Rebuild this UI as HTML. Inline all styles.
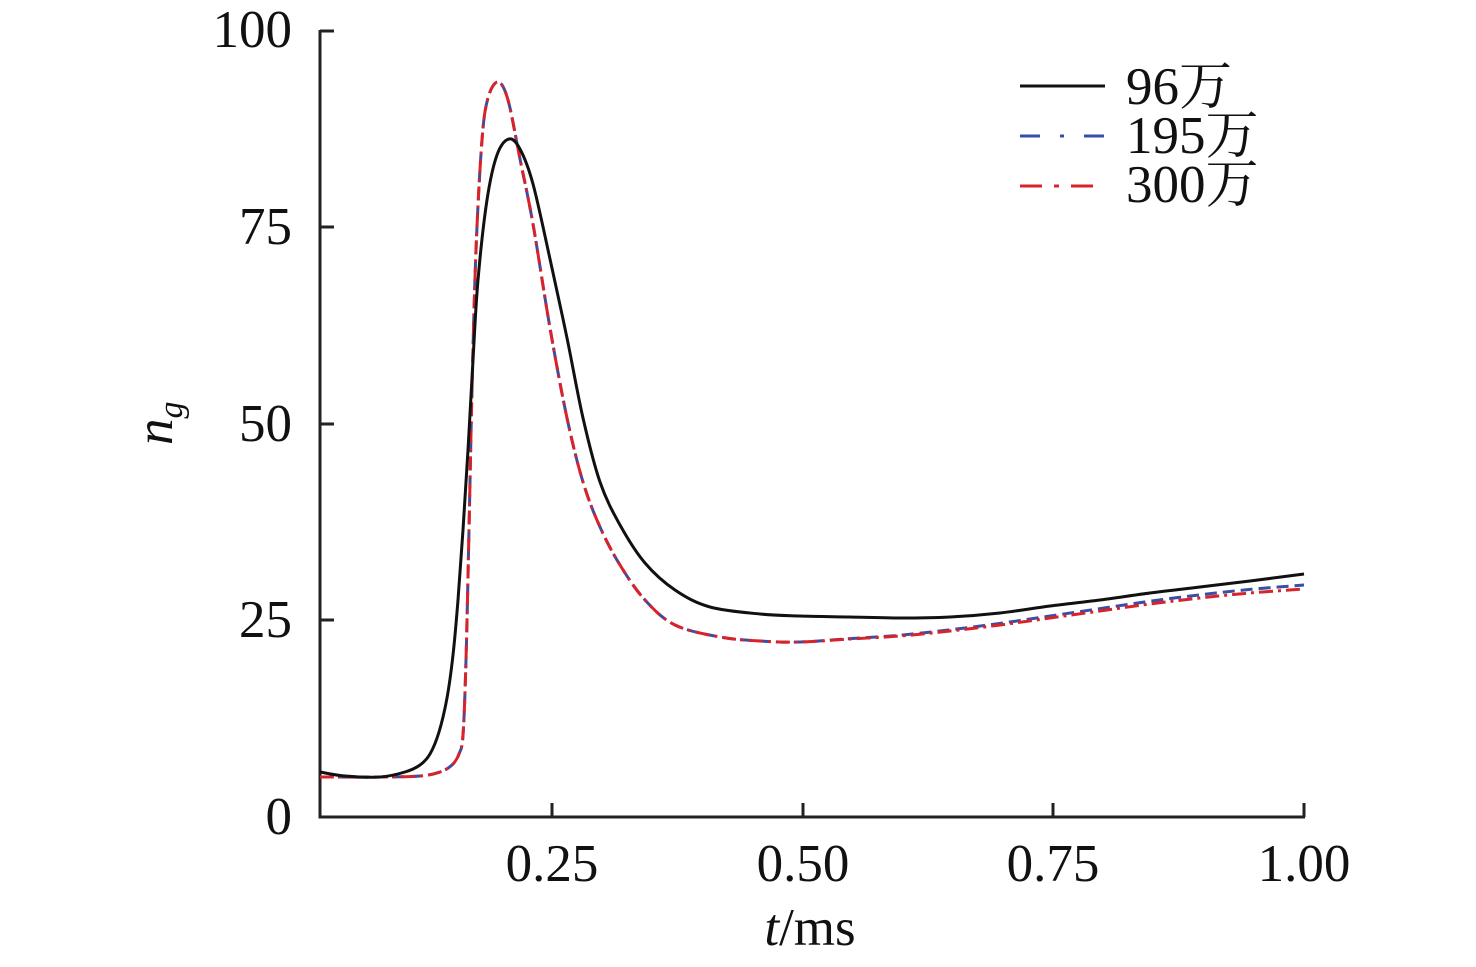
<!DOCTYPE html><html><head><style>body{margin:0;background:#fff}</style></head><body>
<svg width="1476" height="962" xmlns="http://www.w3.org/2000/svg" font-family="Liberation Serif, Noto Serif CJK SC, serif">
<g stroke="#222" stroke-width="3" fill="none">
<path d="M320,30V817H1305"/>
<path d="M320,31h14M320,227h14M320,424h14M320,620h14M552,817v-14M803,817v-14M1053,817v-14M1304,817v-14"/>
</g>
<g font-size="53" fill="#111" text-anchor="end">
<text x="292" y="47">100</text><text x="292" y="244">75</text><text x="292" y="441">50</text><text x="292" y="637">25</text><text x="292" y="834">0</text>
</g>
<g font-size="53" fill="#111" text-anchor="middle">
<text x="552" y="881">0.25</text><text x="803" y="881">0.50</text><text x="1053" y="881">0.75</text><text x="1304" y="881">1.00</text>
<text x="810" y="945"><tspan font-style="italic">t</tspan>/ms</text>
</g>
<text transform="translate(172,445) rotate(-90)" font-size="53" fill="#111"><tspan font-style="italic">n</tspan><tspan font-style="italic" font-size="34" dy="10">g</tspan></text>
<g fill="none" stroke-width="3" stroke-linejoin="round">
<path id="b" stroke="#3a4ea6" stroke-dasharray="12 6"/>
<path id="r" stroke="#d8232a" stroke-dasharray="14 5 3 5"/>
<path id="k" stroke="#111"/>
<path d="M1020,86h85" stroke="#111"/>
<path d="M1020,136h85" stroke="#3a4ea6" stroke-dasharray="20 20 4 20"/>
<path d="M1020,186h85" stroke="#d8232a" stroke-dasharray="22 12 5 12"/>
</g>
<g font-size="53" fill="#111">
<text x="1126" y="104">96万</text><text x="1126" y="153">195万</text><text x="1126" y="202">300万</text>
</g>
</svg>
<script>
function cr(p){let d="M"+p[0][0]+","+p[0][1];for(let i=0;i<p.length-1;i++){const a=p[i-1]||p[i],b=p[i],c=p[i+1],e=p[i+2]||c;d+=" C"+(b[0]+(c[0]-a[0])/6)+","+(b[1]+(c[1]-a[1])/6)+" "+(c[0]-(e[0]-b[0])/6)+","+(c[1]-(e[1]-b[1])/6)+" "+c[0]+","+c[1];}return d;}
const k=[[320,772],[345,776],[380,777],[405,772],[420,765],[430,754],[439,732],[447,698],[453,655],[458,600],[463,530],[468,450],[473,360],[478,280],[487,200],[497,155],[509,139],[520,149],[533,184],[550,259],[567,338],[583,418],[600,482],[620,525],[645,563],[675,590],[710,607],[760,614],[800,616],[850,617],[900,618],[950,617],[1000,613],[1050,606],[1100,600],[1150,593],[1200,587],[1250,581],[1304,574]];
const rr=[[320,777],[380,777],[420,776],[440,772],[452,765],[459,754],[463,735],[466,660],[469,530],[472,390],[476,250],[482,140],[488,98],[498,82],[508,100],[520,159],[533,224],[550,328],[567,418],[583,482],[600,527],[620,565],[645,600],[675,625],[720,637],[760,641],[800,642],[850,639],[900,636],[950,631],[1000,625],[1050,618],[1100,611],[1150,604],[1200,598],[1250,593],[1304,589]];
const bb=rr.map(p=>[p[0],p[0]>800?p[1]-(p[0]-800)/504*4:p[1]]);
document.getElementById("k").setAttribute("d",cr(k));
document.getElementById("r").setAttribute("d",cr(rr));
document.getElementById("b").setAttribute("d",cr(bb));
</script>
</body></html>
